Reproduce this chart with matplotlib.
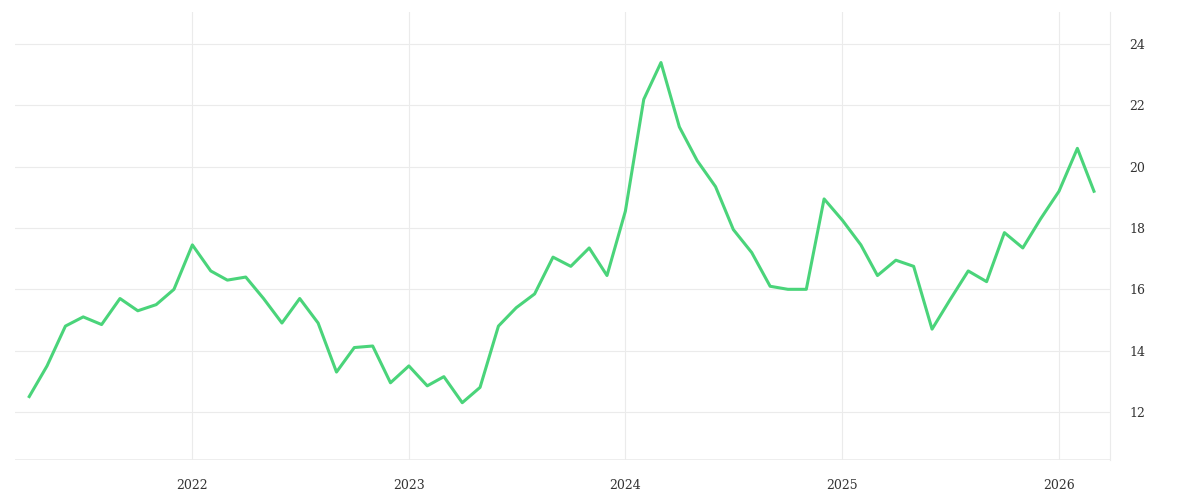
import matplotlib
matplotlib.use("Agg")
import matplotlib.pyplot as plt
import pandas as pd

dates = pd.date_range("2021-04-01", periods=60, freq="MS")
values = [12.5,13.5,14.8,15.1,14.85,15.7,15.3,15.5,16.0,17.45,
          16.6,16.3,16.4,15.7,14.9,15.7,14.9,13.3,14.1,14.15,
          12.95,13.5,12.85,13.15,12.3,12.8,14.8,15.4,15.85,17.05,
          16.75,17.35,16.45,18.55,22.2,23.4,21.3,20.2,19.35,17.95,
          17.2,16.1,16.0,16.0,18.95,18.25,17.45,16.45,16.95,16.75,
          14.7,15.65,16.6,16.25,17.85,17.35,18.3,19.2,20.6,19.2]
yticks = [12,14,16,18,20,22,24]
xticks = pd.to_datetime(["2022-01-01","2023-01-01","2024-01-01","2025-01-01","2026-01-01"])
xlabels = ["2022","2023","2024","2025","2026"]

fig = plt.figure(figsize=(12,5), dpi=100)
ax = fig.add_axes([15/1200, 1-460/500, (1110-15)/1200, 448/500])
ax.plot(dates, values, color="#4ad47a", lw=2.2)
ax.set_ylim(10.43, 25.05)
ax.set_xlim(pd.Timestamp("2021-03-08"), pd.Timestamp("2026-03-28"))
ax.set_yticks(yticks)
ax.set_xticks(xticks)
ax.set_xticklabels(xlabels)
ax.yaxis.tick_right()
ax.grid(True, color="#ebebeb", lw=0.8)
for s in ["top","left","bottom"]:
    ax.spines[s].set_visible(False)
ax.spines["right"].set_color("#ebebeb")
ax.axhline(10.43, color="#ebebeb", lw=1.2)
ax.tick_params(length=0, labelsize=9, colors="#333333", pad=14)
for t in ax.get_xticklabels()+ax.get_yticklabels():
    t.set_family("DejaVu Serif")
plt.savefig("out.png")
